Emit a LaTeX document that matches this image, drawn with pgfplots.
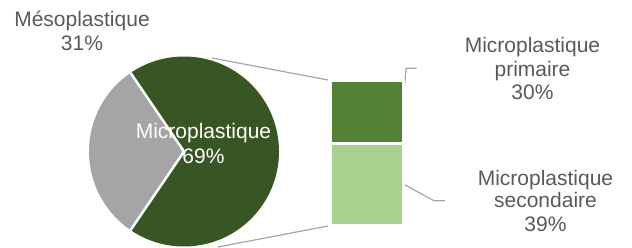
\documentclass[border=0pt]{standalone}
\usepackage{pgfplots}
\pgfplotsset{compat=1.18}
\usepackage{fontspec}
\setmainfont{Liberation Sans}
\definecolor{pieGreen}{HTML}{375623}
\definecolor{pieGrey}{HTML}{A5A5A5}
\definecolor{barDark}{HTML}{548235}
\definecolor{barLight}{HTML}{A9D18E}
\definecolor{txt}{HTML}{595959}
\definecolor{lead}{HTML}{A6A6A6}
\def\meso{31}
\def\micro{69}
\def\prim{30}
\def\sec{39}
\tikzset{lab/.style={font=\fontsize{21}{24}\selectfont,text=txt,anchor=base,inner sep=0pt,outer sep=0pt}}
\begin{document}
\begin{tikzpicture}
\pgfmathsetmacro{\ga}{180-\meso*1.8}
\pgfmathsetmacro{\gb}{180+\meso*1.8}
\pgfmathsetmacro{\gc}{\ga+360}
\begin{axis}[width=632pt,height=248pt,scale only axis,xmin=0,xmax=632,ymin=0,ymax=248,
  axis lines=none,clip=false]
% pie
\fill[pieGrey] (axis cs:184,96.5) -- ++(\ga:95pt) arc[start angle=\ga,end angle=\gb,radius=95pt] -- cycle;
\fill[pieGreen] (axis cs:184,96.5) -- ++(\gb:95pt) arc[start angle=\gb,end angle=\gc,radius=95pt] -- cycle;
\draw[white,line width=2.5pt] (axis cs:184,96.5) -- ++(\ga:95pt);
\draw[white,line width=2.5pt] (axis cs:184,96.5) -- ++(\gb:95pt);
% connectors
\addplot[lead,line width=1.2pt,no marks] coordinates {(212,190) (328,168)};
\addplot[lead,line width=1.2pt,no marks] coordinates {(218,1) (328,22)};
\addplot[lead,line width=1.2pt,no marks] coordinates {(402.7,137.3) (406,179.7) (416.7,179.7)};
\addplot[lead,line width=1.2pt,no marks] coordinates {(403.3,64) (434,47.3) (445,47.3)};
% labels
\node[lab] at (axis cs:82,221) {Mésoplastique};
\node[lab] at (axis cs:82,197.5) {31\%};
\node[lab] at (axis cs:532.5,195.3) {Microplastique};
\node[lab] at (axis cs:532.5,171.3) {primaire};
\node[lab] at (axis cs:532.5,148) {30\%};
\node[lab] at (axis cs:545.5,62.5) {Microplastique};
\node[lab] at (axis cs:545.5,40.5) {secondaire};
\node[lab] at (axis cs:545.5,16) {39\%};
\node[lab,text=white] at (axis cs:203.5,109.7) {Microplastique};
\node[lab,text=white] at (axis cs:203.5,84.7) {69\%};
\end{axis}
\begin{axis}[width=632pt,height=248pt,scale only axis,xmin=0,xmax=632,ymin=-10.68,ymax=107.07,
  axis lines=none,ybar stacked,bar width=73pt]
\addplot[fill=barLight,draw=white,line width=3pt] coordinates {(366.7,39)};
\addplot[fill=barDark,draw=white,line width=3pt] coordinates {(366.7,30)};
\end{axis}
\pgfresetboundingbox
\useasboundingbox (0,0) rectangle (632pt,248pt);
\end{tikzpicture}
\end{document}
